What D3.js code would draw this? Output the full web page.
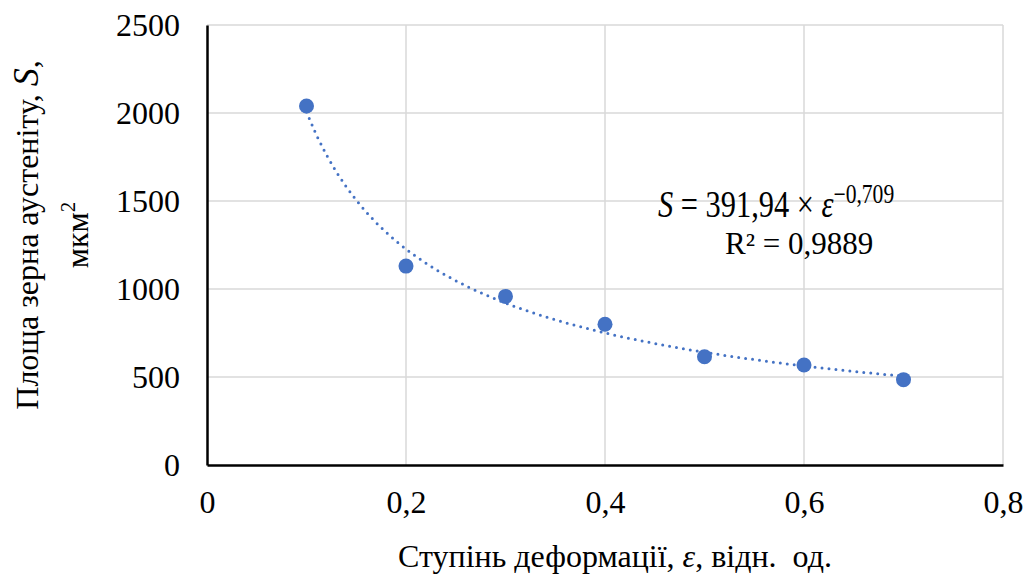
<!DOCTYPE html>
<html>
<head>
<meta charset="utf-8">
<script src="https://cdn.jsdelivr.net/npm/d3@7"></script>
<style>
  body { margin: 0; background: #fff; }
  text { font-family: "Liberation Serif", "Times New Roman", serif; fill: #000; white-space: pre; }
</style>
</head>
<body>
<svg width="1025" height="574"></svg>
<script>
// data
var strain = [0.1, 0.2, 0.3, 0.4, 0.5, 0.6, 0.7];
var area = [2040, 1130, 958, 800, 615, 568, 485];
var xTicks = [0, 0.2, 0.4, 0.6, 0.8];
var yTicks = [0, 500, 1000, 1500, 2000, 2500];
// trend line: S = 391.94 * e^-0.709
var trendA = 391.94, trendB = -0.709;

var svg = d3.select("svg");
var width = +svg.attr("width");
var height = +svg.attr("height");

var x = d3.scaleLinear().domain([0, 0.8]).range([207, 1003]);
var y = d3.scaleLinear().domain([0, 2500]).range([465, 25]);

var fmt = function(d) { return String(d).replace(".", ","); };

// gridlines
svg.append("g")
  .selectAll("line")
  .data(yTicks.slice(1))
  .enter()
  .append("line")
  .attr("x1", x(0)).attr("x2", x(0.8))
  .attr("y1", function(d) { return y(d); })
  .attr("y2", function(d) { return y(d); })
  .attr("stroke", "#d9d9d9")
  .attr("stroke-width", 1.5);

svg.append("g")
  .selectAll("line")
  .data(xTicks.slice(1))
  .enter()
  .append("line")
  .attr("y1", y(0)).attr("y2", y(2500))
  .attr("x1", function(d) { return x(d); })
  .attr("x2", function(d) { return x(d); })
  .attr("stroke", "#d9d9d9")
  .attr("stroke-width", 1.5);

// axes
var xAxis = svg.append("g")
  .attr("transform", "translate(0," + y(0) + ")")
  .call(d3.axisBottom(x).tickValues(xTicks).tickSize(0).tickPadding(25).tickFormat(fmt));
var yAxis = svg.append("g")
  .attr("transform", "translate(" + x(0) + ",0)")
  .call(d3.axisLeft(y).tickValues(yTicks).tickSize(0).tickPadding(27).tickFormat(fmt));

[xAxis, yAxis].forEach(function(g) {
  g.select(".domain").attr("stroke", "#000").attr("stroke-width", 2.5);
  g.selectAll("text")
    .style("font-family", '"Liberation Serif", serif')
    .style("font-size", "32px")
    .attr("fill", "#000");
});

// trend line
var trendPts = d3.range(0, 61).map(function(i) {
  var e = 0.1 + i * 0.01;
  return [e, trendA * Math.pow(e, trendB)];
});
svg.append("path")
  .datum(trendPts)
  .attr("fill", "none")
  .attr("stroke", "#4472C4")
  .attr("stroke-width", 3)
  .attr("stroke-linecap", "round")
  .attr("stroke-dasharray", "0 7")
  .attr("d", d3.line().x(function(d) { return x(d[0]); }).y(function(d) { return y(d[1]); }));

// points
svg.append("g")
  .selectAll("circle")
  .data(strain)
  .enter()
  .append("circle")
  .attr("cx", function(d) { return x(d); })
  .attr("cy", function(d, i) { return y(area[i]); })
  .attr("r", 7.5)
  .attr("fill", "#4472C4");

// equation
var eq = svg.append("text")
  .attr("transform", "translate(658,217) scale(0.8,1)")
  .style("font-size", "38px");
eq.append("tspan").style("font-style", "italic").text("S");
eq.append("tspan").text(" = 391,94 × ");
eq.append("tspan").style("font-style", "italic").text("ε");
eq.append("tspan").attr("dy", -14).style("font-size", "27px").text("−0,709");

svg.append("text")
  .attr("x", 725).attr("y", 254)
  .style("font-size", "31px")
  .text("R² = 0,9889");

// axis titles
var xt = svg.append("text")
  .attr("x", 615).attr("y", 567)
  .attr("text-anchor", "middle")
  .style("font-size", "32px");
xt.append("tspan").text("Ступінь деформації, ");
xt.append("tspan").style("font-style", "italic").text("ε");
xt.append("tspan").text(", відн.  од.");

var yt = svg.append("text")
  .attr("transform", "translate(38,235) rotate(-90)")
  .attr("text-anchor", "middle")
  .style("font-size", "32px");
yt.append("tspan").text("Площа зерна аустеніту, ");
yt.append("tspan").style("font-style", "italic").style("font-size", "36px").text("S");
yt.append("tspan").text(",");

var yt2 = svg.append("text")
  .attr("transform", "translate(88,235) rotate(-90)")
  .attr("text-anchor", "middle")
  .style("font-size", "32px");
yt2.append("tspan").text("мкм");
yt2.append("tspan").attr("dy", -13).style("font-size", "21px").text("2");
</script>
</body>
</html>
